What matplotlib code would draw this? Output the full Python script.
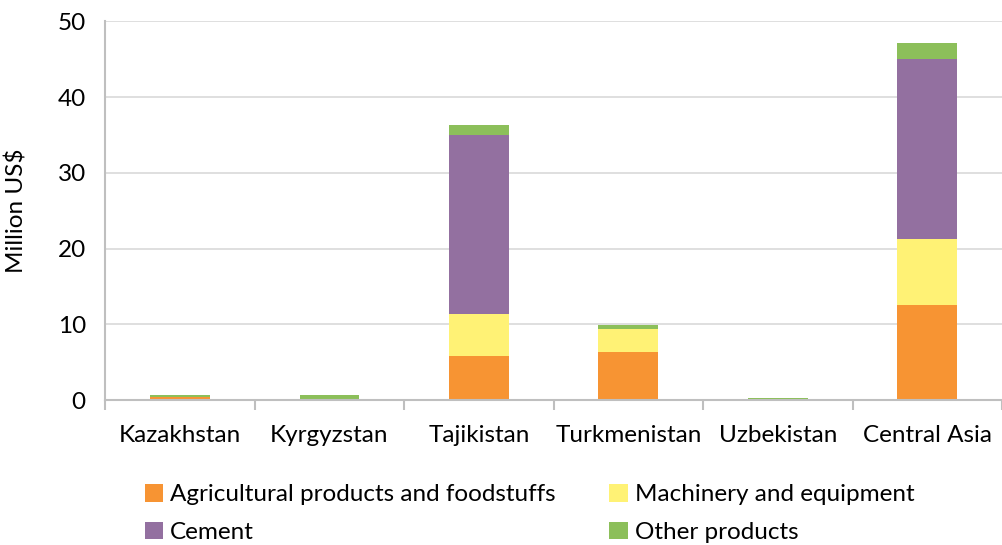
import numpy as np
import matplotlib.pyplot as plt

plt.rcParams['font.family'] = ['Lato', 'DejaVu Sans']

countries = ['Kazakhstan', 'Kyrgyzstan', 'Tajikistan', 'Turkmenistan', 'Uzbekistan', 'Central Asia']
agri = [0.35, 0.0, 5.8, 6.3, 0.0, 12.6]
machinery = [0.05, 0.1, 5.5, 3.1, 0.1, 8.6]
cement = [0.0, 0.0, 23.7, 0.0, 0.0, 23.8]
other = [0.25, 0.55, 1.3, 0.5, 0.15, 2.1]

series = [
    ('Agricultural products and foodstuffs', agri, '#F79433'),
    ('Machinery and equipment', machinery, '#FFF275'),
    ('Cement', cement, '#9370A0'),
    ('Other products', other, '#8CBF5A'),
]

fs = 17.5
fig = plt.figure(figsize=(10.03, 5.45), dpi=100)
ax = fig.add_axes([0.105, 0.266, 0.894, 0.695])

x = np.arange(len(countries))
bottom = np.zeros(len(countries))
handles = {}
for name, vals, col in series:
    vals = np.array(vals)
    handles[name] = ax.bar(x, vals, 0.4, bottom=bottom, color=col, label=name, zorder=2)
    bottom += vals

ax.set_xlim(-0.5, 5.5)
ax.set_ylim(0, 50)
ax.set_yticks(range(0, 51, 10))
ax.yaxis.grid(True, color='#D9D9D9', lw=1.2, zorder=0)
ax.tick_params(axis='y', length=0, labelsize=fs, pad=14)
ax.set_xticks(x)
ax.set_xticklabels(countries, fontsize=fs)
ax.set_xticks(np.arange(-0.5, 6, 1), minor=True)
ax.tick_params(axis='x', which='major', length=0, pad=18)
ax.tick_params(axis='x', which='minor', length=7, width=1.5, color='#BFBFBF')
for s in ['top', 'right']:
    ax.spines[s].set_visible(False)
for s in ['left', 'bottom']:
    ax.spines[s].set_color('#BFBFBF')
    ax.spines[s].set_linewidth(1.5)
ax.set_ylabel('Million US$', fontsize=fs, labelpad=22)

order = ['Agricultural products and foodstuffs', 'Cement', 'Machinery and equipment', 'Other products']
fig.legend([handles[k] for k in order], order, ncol=2, loc='lower left',
           bbox_to_anchor=(0.125, -0.032), frameon=False, fontsize=fs,
           handlelength=0.75, handleheight=0.75, handletextpad=0.3,
           columnspacing=2.2, labelspacing=0.67, borderpad=0.3)

fig.savefig('out.png', dpi=100)
